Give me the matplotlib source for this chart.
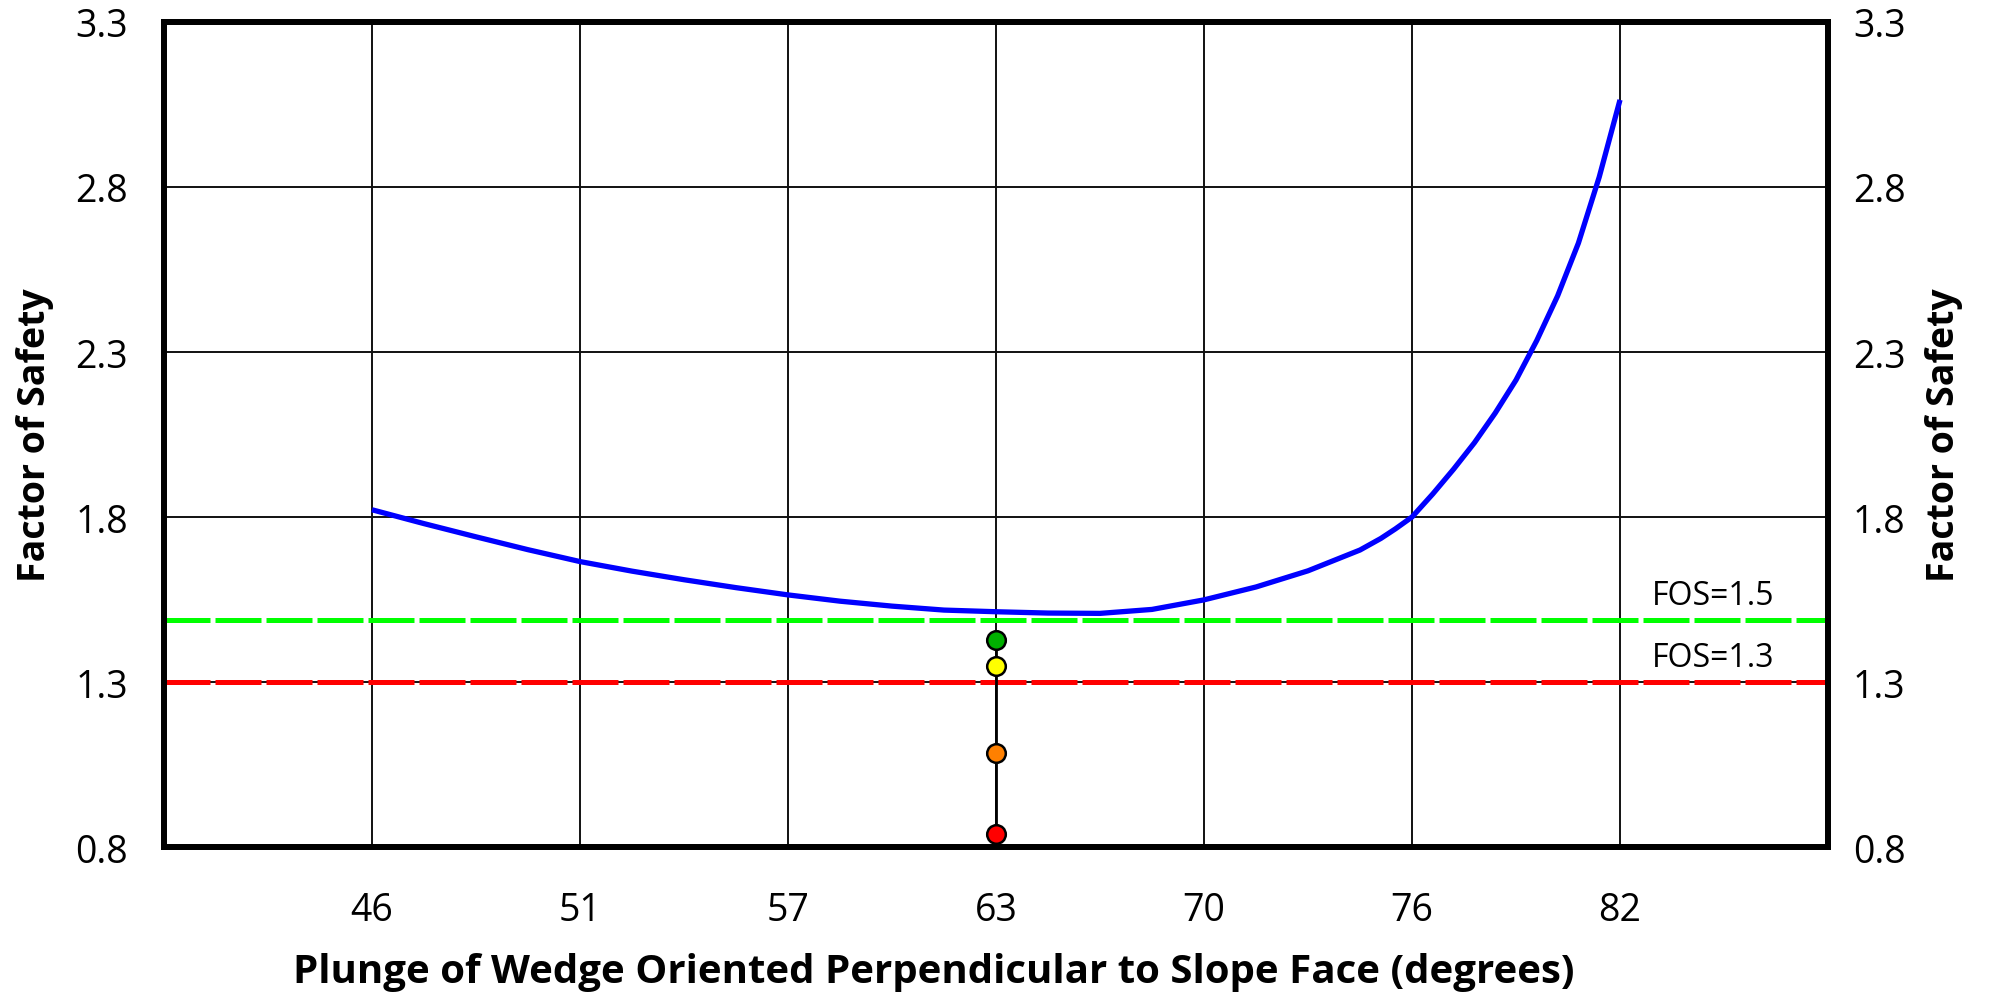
import numpy as np
import matplotlib
matplotlib.use("Agg")
import matplotlib.pyplot as plt

# ---------- DATA ----------
plunge_labels = ["46", "51", "57", "63", "70", "76", "82"]
plunge_pos = [0, 1, 2, 3, 4, 5, 6]

# FOS curve (x in tick-position units)
curve_x = [0, 0.25, 0.5, 0.75, 1, 1.25, 1.5, 1.75, 2, 2.25, 2.5, 2.75, 3, 3.25,
           3.5, 3.75, 4, 4.25, 4.5, 4.75, 4.85, 4.92, 5, 5.1, 5.2, 5.3, 5.4,
           5.5, 5.6, 5.7, 5.8, 5.9, 6.0]
curve_fos = [1.822, 1.780, 1.740, 1.701, 1.665, 1.636, 1.610, 1.586, 1.564, 1.545,
             1.530, 1.518, 1.513, 1.509, 1.508, 1.520, 1.549, 1.588, 1.637, 1.700,
             1.735, 1.764, 1.800, 1.870, 1.945, 2.025, 2.115, 2.215, 2.335, 2.470,
             2.630, 2.830, 3.064]

# scenario points at plunge 63
point_x = 3
point_fos = [1.428, 1.349, 1.086, 0.840]
point_colors = ["#00b000", "#ffff00", "#ff8000", "#ff0000"]

fos_lines = [1.487, 1.3]
fos_labels = ["FOS=1.5", "FOS=1.3"]
fos_colors = ["#00ff00", "#ff0000"]

y_ticks = [0.8, 1.3, 1.8, 2.3, 2.8, 3.3]

# ---------- PLOT ----------
plt.rcParams["font.family"] = ["Open Sans", "DejaVu Sans"]

fig = plt.figure(figsize=(19.9, 9.95), dpi=100)
ax = fig.add_axes([0.0824, 0.1477, 0.8362, 0.8292])

ax.set_xlim(-1, 7)
ax.set_ylim(0.8, 3.3)
ax.set_xticks(plunge_pos)
ax.set_xticklabels(plunge_labels)
ax.set_yticks(y_ticks)
ax.set_yticklabels([f"{v:.1f}" for v in y_ticks])
ax.grid(True, color="#111111", linewidth=1.4, zorder=0)
ax.set_axisbelow(True)

for (yv, lab, col) in zip(fos_lines, fos_labels, fos_colors):
    ax.axhline(yv, color=col, linewidth=3.6, dashes=(9.2, 1.0), zorder=2)
    ax.text(6.45, yv + 0.025, lab, ha="center", va="bottom", fontsize=23, zorder=5)

ax.plot(curve_x, curve_fos, color="#0000ff", linewidth=3.8, zorder=3,
        solid_capstyle="butt", solid_joinstyle="round")

ax.vlines(point_x, min(point_fos), max(point_fos), color="black", linewidth=2, zorder=4)
for fv, col in zip(point_fos, point_colors):
    ax.plot(point_x, fv, "o", markersize=13.4, markerfacecolor=col,
            markeredgecolor="black", markeredgewidth=1.8, zorder=5)

for sp in ax.spines.values():
    sp.set_linewidth(4.2)

ax.tick_params(axis="both", length=0, labelsize=27)
ax.tick_params(axis="y", pad=26)
ax.tick_params(axis="x", pad=32)
ax.set_xlabel("Plunge of Wedge Oriented Perpendicular to Slope Face (degrees)",
              fontsize=29, fontweight="bold", labelpad=16, x=0.4625)
ax.set_ylabel("Factor of Safety", fontsize=27, fontweight="bold", labelpad=15)

ax2 = ax.twinx()
ax2.set_ylim(0.8, 3.3)
ax2.set_yticks(y_ticks)
ax2.set_yticklabels([f"{v:.1f}" for v in y_ticks])
ax2.tick_params(axis="y", length=0, labelsize=27, pad=18)
ax2.set_ylabel("Factor of Safety", fontsize=27, fontweight="bold", labelpad=14)
for sp in ax2.spines.values():
    sp.set_linewidth(4.2)

fig.savefig("out.png", dpi=100)
